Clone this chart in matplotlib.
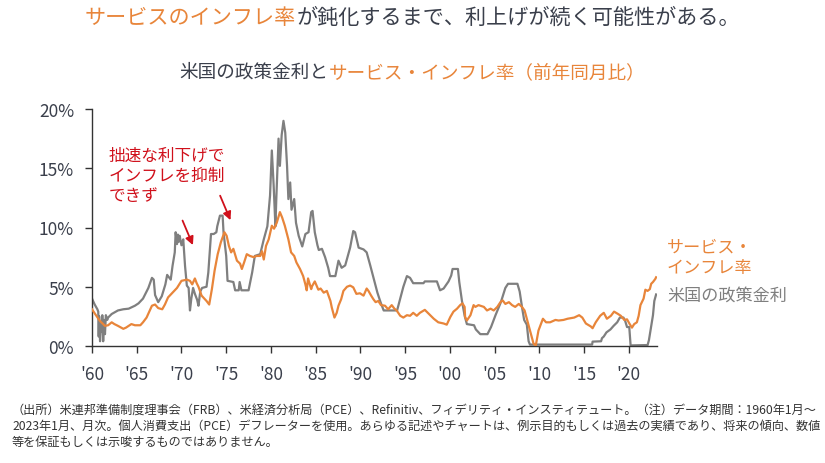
import matplotlib
matplotlib.use("Agg")
import matplotlib.pyplot as plt
from matplotlib.offsetbox import TextArea, HPacker, AnnotationBbox

plt.rcParams['font.family'] = ['Noto Sans CJK JP', 'DejaVu Sans']

ORANGE = '#E8853A'
GRAY = '#7F7F7F'
DARK = '#3A3F4B'
RED = '#D0101B'

# US policy rate, decimal year / %
fed_t = [1960.0, 1960.3, 1960.6, 1960.7, 1960.75, 1960.8, 1960.9, 1961.0, 1961.1, 1961.15,
         1961.25, 1961.35, 1961.45, 1961.55, 1961.7, 1961.8, 1962.2, 1962.9, 1963.5, 1964.1,
         1964.8, 1965.2, 1965.7, 1966.3, 1966.7, 1966.9, 1967.05, 1967.4, 1967.8, 1968.2,
         1968.4, 1968.8, 1969.0, 1969.25, 1969.35, 1969.5, 1969.6, 1969.7, 1969.8, 1970.0,
         1970.2, 1970.4, 1970.6, 1970.8, 1970.95, 1971.1, 1971.3, 1971.5, 1971.75, 1971.9,
         1972.1, 1972.3, 1972.8, 1973.0, 1973.3, 1973.6, 1973.9, 1974.0, 1974.3, 1974.6,
         1974.7, 1975.0, 1975.15, 1975.8, 1976.0, 1976.4, 1976.5, 1976.7, 1977.5, 1977.9,
         1978.2, 1978.8, 1979.2, 1979.6, 1979.9, 1980.1, 1980.3, 1980.5, 1980.6, 1980.85,
         1981.0, 1981.2, 1981.4, 1981.6, 1981.8, 1981.95, 1982.15, 1982.3, 1982.6, 1982.8,
         1983.1, 1983.5, 1983.85, 1984.2, 1984.5, 1984.65, 1984.9, 1985.2, 1985.35, 1985.7,
         1986.05, 1986.4, 1986.6, 1987.2, 1987.55, 1987.9, 1988.3, 1988.85, 1989.2, 1989.4,
         1989.8, 1990.35, 1990.7, 1991.1, 1991.5, 1991.9, 1992.25, 1992.6, 1994.1, 1994.45,
         1994.8, 1995.2, 1995.55, 1995.9, 1997.05, 1997.2, 1998.55, 1998.9, 1999.3, 1999.85,
         2000.15, 2000.3, 2000.9, 2001.05, 2001.35, 2001.65, 2001.9, 2002.7, 2002.9, 2003.4,
         2004.2, 2004.6, 2005.1, 2005.7, 2006.2, 2006.5, 2007.55, 2007.8, 2008.1, 2008.3,
         2008.6, 2008.8, 2008.95, 2015.9, 2015.95, 2016.9, 2017.0, 2017.2, 2017.5, 2017.95,
         2018.3, 2018.7, 2019.0, 2019.4, 2019.6, 2019.8, 2020.05, 2020.2, 2022.1, 2022.25,
         2022.5, 2022.7, 2022.85, 2023.05]
fed_v = [4.0, 3.5, 3.1, 2.9, 0.8, 2.5, 0.4, 2.0, 1.2, 2.6,
         0.4, 2.2, 1.0, 2.6, 2.2, 2.4, 2.7, 3.0, 3.1, 3.15,
         3.4, 3.6, 4.0, 4.9, 5.75, 5.6, 4.3, 3.7, 4.2, 5.2,
         6.0, 5.6, 6.75, 7.9, 9.6, 8.6, 9.4, 8.8, 9.3, 8.5,
         9.0, 6.75, 5.1, 4.9, 3.0, 4.0, 4.9, 4.4, 3.9, 3.4,
         4.6, 4.9, 5.0, 6.2, 9.45, 9.45, 9.6, 10.1, 11.0, 11.0,
         9.6, 7.6, 5.5, 5.4, 4.7, 4.7, 5.4, 4.7, 4.7, 6.2,
         7.6, 7.75, 9.0, 10.1, 12.7, 16.5, 13.6, 10.1, 12.4, 17.5,
         15.2, 17.8, 19.0, 18.0, 15.2, 12.4, 13.8, 11.5, 12.4, 10.4,
         9.3, 8.4, 9.45, 9.6, 11.3, 11.4, 9.6, 8.5, 8.1, 8.2,
         7.5, 6.6, 5.9, 5.9, 7.2, 6.6, 6.8, 8.3, 9.7, 9.6,
         8.3, 8.15, 7.9, 6.8, 5.65, 4.5, 3.7, 3.0, 3.0, 4.0,
         5.0, 5.9, 5.75, 5.3, 5.3, 5.45, 5.45, 4.7, 4.85, 5.45,
         5.95, 6.5, 6.5, 5.4, 3.8, 2.55, 1.85, 1.75, 1.4, 1.0,
         1.0, 1.6, 2.6, 3.7, 4.9, 5.25, 5.25, 4.6, 3.1, 2.2,
         1.8, 0.4, 0.12, 0.12, 0.37, 0.4, 0.66, 0.8, 1.15, 1.4,
         1.7, 2.0, 2.4, 2.4, 2.1, 1.6, 1.6, 0.05, 0.08, 0.5,
         1.7, 2.6, 3.8, 4.35]

# Services inflation (PCE, yoy), decimal year / %
svc_t = [1960.0, 1960.35, 1960.9, 1961.45, 1961.8, 1962.2, 1962.5, 1962.9, 1963.5, 1963.8,
         1964.4, 1964.8, 1965.4, 1965.7, 1966.1, 1966.7, 1967.05, 1967.4, 1967.85, 1968.15,
         1968.5, 1969.0, 1969.5, 1970.0, 1970.6, 1970.95, 1971.2, 1971.5, 1971.7, 1971.9,
         1972.25, 1972.8, 1973.1, 1973.4, 1973.7, 1974.05, 1974.4, 1974.8, 1975.05, 1975.3,
         1975.55, 1975.8, 1976.2, 1976.55, 1976.75, 1977.0, 1977.3, 1977.65, 1978.05, 1978.4,
         1978.8, 1979.0, 1979.2, 1979.45, 1979.75, 1980.1, 1980.35, 1980.65, 1981.0, 1981.25,
         1981.55, 1981.95, 1982.25, 1982.6, 1982.85, 1983.25, 1983.6, 1983.85, 1984.0, 1984.15,
         1984.5, 1984.6, 1984.9, 1985.3, 1985.55, 1985.9, 1986.25, 1986.65, 1986.8, 1987.1,
         1987.35, 1987.55, 1987.85, 1988.1, 1988.5, 1988.85, 1989.2, 1989.55, 1989.95, 1990.35,
         1990.7, 1990.9, 1991.2, 1991.45, 1991.7, 1992.0, 1992.3, 1992.75, 1993.1, 1993.5,
         1993.8, 1994.05, 1994.45, 1994.8, 1995.2, 1995.55, 1995.9, 1996.3, 1996.65, 1997.2,
         1997.6, 1998.2, 1998.7, 1999.3, 1999.65, 2000.05, 2000.4, 2000.8, 2001.15, 2001.4,
         2001.65, 2001.7, 2001.9, 2002.3, 2002.65, 2002.85, 2003.2, 2003.8, 2004.15, 2004.55,
         2004.9, 2005.3, 2005.65, 2005.9, 2006.2, 2006.6, 2006.95, 2007.3, 2007.7, 2008.05,
         2008.35, 2008.6, 2009.0, 2009.35, 2009.6, 2009.9, 2010.4, 2010.75, 2011.2, 2011.8,
         2012.15, 2012.7, 2013.15, 2013.9, 2014.45, 2014.8, 2015.2, 2015.75, 2015.95, 2016.3,
         2016.8, 2017.2, 2017.55, 2018.0, 2018.35, 2018.8, 2019.1, 2019.5, 2019.8, 2020.1,
         2020.35, 2020.6, 2020.9, 2021.1, 2021.3, 2021.65, 2021.85, 2022.1, 2022.35, 2022.5,
         2022.7, 2022.95, 2023.05]
svc_v = [3.1, 2.7, 2.1, 1.7, 1.75, 2.0, 1.85, 1.7, 1.45, 1.55,
         1.85, 1.75, 1.75, 2.0, 2.4, 3.4, 3.5, 3.2, 3.1, 3.5,
         4.1, 4.5, 4.9, 5.5, 5.6, 5.5, 5.2, 5.7, 5.3, 5.0,
         4.25, 3.8, 3.5, 4.8, 6.35, 7.75, 8.75, 9.6, 9.3, 8.45,
         7.9, 8.2, 7.2, 6.95, 6.5, 7.05, 7.75, 7.6, 7.5, 7.6,
         7.6, 8.0, 7.3, 8.45, 9.0, 10.15, 9.9, 10.4, 11.3, 10.85,
         10.15, 9.0, 7.9, 7.6, 7.05, 6.5, 5.9, 5.2, 4.7, 5.7,
         4.8, 5.05, 5.45, 4.75, 4.85, 4.5, 4.65, 3.8, 3.25, 2.4,
         2.8, 3.4, 3.95, 4.65, 5.0, 5.1, 4.95, 4.4, 4.45, 4.25,
         4.85, 4.65, 4.25, 3.95, 3.7, 3.8, 3.45, 3.4, 3.1, 3.45,
         3.15, 3.0, 2.55, 2.4, 2.6, 2.55, 2.8, 2.55, 2.8, 3.05,
         2.75, 2.3, 2.0, 1.9, 1.8, 2.45, 2.9, 3.15, 3.45, 3.6,
         3.3, 2.45, 2.15, 2.6, 3.45, 3.3, 3.45, 3.3, 3.0, 3.15,
         3.0, 3.3, 3.7, 3.85, 3.55, 3.7, 3.45, 3.3, 3.55, 3.3,
         3.0, 2.3, 1.2, 0.2, 0.03, 1.3, 2.3, 2.0, 2.0, 2.2,
         2.15, 2.2, 2.3, 2.4, 2.6, 2.4, 1.9, 1.65, 1.5, 2.0,
         2.55, 2.8, 2.3, 2.55, 2.9, 2.7, 2.55, 2.2, 2.25, 1.85,
         1.55, 1.85, 2.0, 2.55, 3.45, 4.0, 4.75, 4.65, 4.8, 5.25,
         5.4, 5.65, 5.8]

x_ticks = [1960, 1965, 1970, 1975, 1980, 1985, 1990, 1995, 2000, 2005, 2010, 2015, 2020]
x_labels = ["'60", "'65", "'70", "'75", "'80", "'85", "'90", "'95", "'00", "'05", "'10", "'15", "'20"]
y_ticks = [0, 5, 10, 15, 20]
y_labels = ['0%', '5%', '10%', '15%', '20%']

fig = plt.figure(figsize=(8.25, 4.64), dpi=100)
ax = fig.add_axes([92 / 825, 1 - 347 / 464, (657 - 92) / 825, (347 - 110) / 464])

ax.plot(fed_t, fed_v, color=GRAY, lw=1.6, zorder=2)
ax.plot(svc_t, svc_v, color=ORANGE, lw=1.6, zorder=3)

ax.set_xlim(1960, 2023.15)
ax.set_ylim(0, 20)
ax.set_xticks(x_ticks)
ax.set_xticklabels(x_labels)
ax.set_yticks(y_ticks)
ax.set_yticklabels(y_labels)
for s in ['top', 'right']:
    ax.spines[s].set_visible(False)
for s in ['left', 'bottom']:
    ax.spines[s].set_color('#333333')
    ax.spines[s].set_linewidth(1.0)
ax.tick_params(axis='both', colors='#333333', labelcolor=DARK, labelsize=12.5,
               length=5, width=1.0)
ax.tick_params(axis='x', pad=9)
ax.tick_params(axis='y', pad=8)

# annotation
ax.text(1961.9, 16.8, '拙速な利下げで\nインフレを抑制\nできず', color=RED, fontsize=12,
        va='top', ha='left', linespacing=1.25)
ax.annotate('', xy=(1971.4, 8.3), xytext=(1970.0, 10.8),
            arrowprops=dict(arrowstyle='-|>', color=RED, lw=1.3, mutation_scale=12))
ax.annotate('', xy=(1975.6, 10.4), xytext=(1974.2, 12.9),
            arrowprops=dict(arrowstyle='-|>', color=RED, lw=1.3, mutation_scale=12))

# series labels on the right
fig.text(667 / 825, 1 - 258 / 464, 'サービス・\nインフレ率', color=ORANGE, fontsize=12.3,
         va='center', ha='left', linespacing=1.15)
fig.text(667 / 825, 1 - 296 / 464, '米国の政策金利', color=GRAY, fontsize=12.3,
         va='center', ha='left')


def colored_line(parts, y, size):
    boxes = [TextArea(s, textprops=dict(color=c, fontsize=size)) for s, c in parts]
    pack = HPacker(children=boxes, sep=0, pad=0, align='baseline')
    ab = AnnotationBbox(pack, (0.5, y), xycoords='figure fraction', frameon=False,
                        box_alignment=(0.5, 0.5), pad=0)
    fig.add_artist(ab)


colored_line([('サービスのインフレ率', ORANGE),
              ('が鈍化するまで、利上げが続く可能性がある。', DARK)], 1 - 18 / 464, 15.2)
colored_line([('米国の政策金利と', DARK),
              ('サービス・インフレ率（前年同月比）', ORANGE)], 1 - 73 / 464, 13.4)

footer = ('（出所）米連邦準備制度理事会（FRB）、米経済分析局（PCE）、Refinitiv、フィデリティ・インスティテュート。（注）データ期間：1960年1月～\n'
          '2023年1月、月次。個人消費支出（PCE）デフレーターを使用。あらゆる記述やチャートは、例示目的もしくは過去の実績であり、将来の傾向、数値\n'
          '等を保証もしくは示唆するものではありません。')
fig.text(12 / 825, 1 - 404 / 464, footer, color='#333333', fontsize=8.75, va='top', ha='left',
         linespacing=1.3)

fig.savefig('out.png', dpi=100)
